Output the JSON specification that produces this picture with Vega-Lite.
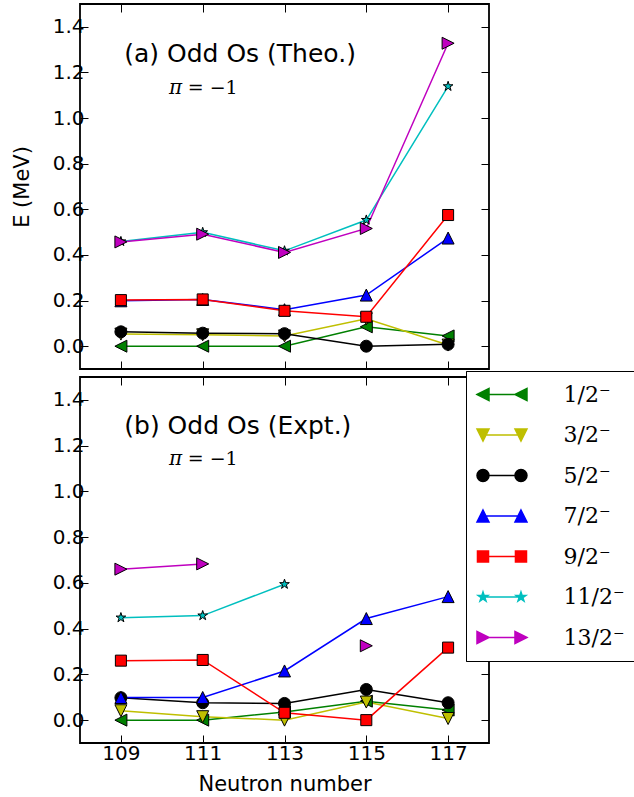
{
  "$schema": "https://vega.github.io/schema/vega-lite/v6.json",
  "padding": {"left": 10, "top": 2, "right": 0, "bottom": 0},
  "background": "white",
  "spacing": 4,
  "config": {
    "view": {"stroke": "black", "strokeWidth": 1.8},
    "font": "DejaVu Sans",
    "axis": {"domain": false, "grid": false, "ticks": true, "tickSize": -8, "tickColor": "black", "tickWidth": 1, "labelFont": "DejaVu Sans", "labelFontSize": 20, "labelColor": "black", "labelFlush": false, "labelOverlap": false, "titleFont": "DejaVu Sans", "titleFontSize": 21, "titleFontWeight": "normal", "titleColor": "black", "labelPadding": 4},
    "legend": {"orient": "none", "legendX": 386, "legendY": 367, "title": null, "padding": 12.5, "fillColor": "white", "strokeColor": "black", "symbolSize": 144, "symbolStrokeWidth": 1.5, "symbolOffset": -6.5, "labelFont": "DejaVu Serif", "labelFontSize": 22, "labelColor": "black", "labelOffset": 69.5, "rowPadding": 18.5}
  },
  "datasets": {
    "d": [
      {"p": "a", "j": "1/2⁻", "N": 109, "E": 0}, {"p": "a", "j": "1/2⁻", "N": 111, "E": 0}, {"p": "a", "j": "1/2⁻", "N": 113, "E": 0}, {"p": "a", "j": "1/2⁻", "N": 115, "E": 0.085}, {"p": "a", "j": "1/2⁻", "N": 117, "E": 0.045},
      {"p": "a", "j": "3/2⁻", "N": 109, "E": 0.053}, {"p": "a", "j": "3/2⁻", "N": 111, "E": 0.05}, {"p": "a", "j": "3/2⁻", "N": 113, "E": 0.045}, {"p": "a", "j": "3/2⁻", "N": 115, "E": 0.12}, {"p": "a", "j": "3/2⁻", "N": 117, "E": 0.005},
      {"p": "a", "j": "5/2⁻", "N": 109, "E": 0.063}, {"p": "a", "j": "5/2⁻", "N": 111, "E": 0.057}, {"p": "a", "j": "5/2⁻", "N": 113, "E": 0.055}, {"p": "a", "j": "5/2⁻", "N": 115, "E": 0.0}, {"p": "a", "j": "5/2⁻", "N": 117, "E": 0.008},
      {"p": "a", "j": "7/2⁻", "N": 109, "E": 0.199}, {"p": "a", "j": "7/2⁻", "N": 111, "E": 0.205}, {"p": "a", "j": "7/2⁻", "N": 113, "E": 0.16}, {"p": "a", "j": "7/2⁻", "N": 115, "E": 0.224}, {"p": "a", "j": "7/2⁻", "N": 117, "E": 0.474},
      {"p": "a", "j": "9/2⁻", "N": 109, "E": 0.202}, {"p": "a", "j": "9/2⁻", "N": 111, "E": 0.205}, {"p": "a", "j": "9/2⁻", "N": 113, "E": 0.155}, {"p": "a", "j": "9/2⁻", "N": 115, "E": 0.129}, {"p": "a", "j": "9/2⁻", "N": 117, "E": 0.575},
      {"p": "a", "j": "11/2⁻", "N": 109, "E": 0.459}, {"p": "a", "j": "11/2⁻", "N": 111, "E": 0.499}, {"p": "a", "j": "11/2⁻", "N": 113, "E": 0.418}, {"p": "a", "j": "11/2⁻", "N": 115, "E": 0.553}, {"p": "a", "j": "11/2⁻", "N": 117, "E": 1.139},
      {"p": "a", "j": "13/2⁻", "N": 109, "E": 0.457}, {"p": "a", "j": "13/2⁻", "N": 111, "E": 0.491}, {"p": "a", "j": "13/2⁻", "N": 113, "E": 0.411}, {"p": "a", "j": "13/2⁻", "N": 115, "E": 0.516}, {"p": "a", "j": "13/2⁻", "N": 117, "E": 1.328},
      {"p": "b", "j": "1/2⁻", "N": 109, "E": 0}, {"p": "b", "j": "1/2⁻", "N": 111, "E": 0}, {"p": "b", "j": "1/2⁻", "N": 113, "E": 0.036}, {"p": "b", "j": "1/2⁻", "N": 115, "E": 0.083}, {"p": "b", "j": "1/2⁻", "N": 117, "E": 0.044},
      {"p": "b", "j": "3/2⁻", "N": 109, "E": 0.041}, {"p": "b", "j": "3/2⁻", "N": 111, "E": 0.015}, {"p": "b", "j": "3/2⁻", "N": 113, "E": 0.0}, {"p": "b", "j": "3/2⁻", "N": 115, "E": 0.079}, {"p": "b", "j": "3/2⁻", "N": 117, "E": 0.007},
      {"p": "b", "j": "5/2⁻", "N": 109, "E": 0.098}, {"p": "b", "j": "5/2⁻", "N": 111, "E": 0.076}, {"p": "b", "j": "5/2⁻", "N": 113, "E": 0.073}, {"p": "b", "j": "5/2⁻", "N": 115, "E": 0.134}, {"p": "b", "j": "5/2⁻", "N": 117, "E": 0.076},
      {"p": "b", "j": "7/2⁻", "N": 109, "E": 0.099}, {"p": "b", "j": "7/2⁻", "N": 111, "E": 0.099}, {"p": "b", "j": "7/2⁻", "N": 113, "E": 0.215}, {"p": "b", "j": "7/2⁻", "N": 115, "E": 0.444}, {"p": "b", "j": "7/2⁻", "N": 117, "E": 0.54},
      {"p": "b", "j": "9/2⁻", "N": 109, "E": 0.26}, {"p": "b", "j": "9/2⁻", "N": 111, "E": 0.263}, {"p": "b", "j": "9/2⁻", "N": 113, "E": 0.032}, {"p": "b", "j": "9/2⁻", "N": 115, "E": 0.0}, {"p": "b", "j": "9/2⁻", "N": 117, "E": 0.317},
      {"p": "b", "j": "11/2⁻", "N": 109, "E": 0.448}, {"p": "b", "j": "11/2⁻", "N": 111, "E": 0.457}, {"p": "b", "j": "11/2⁻", "N": 113, "E": 0.594},
      {"p": "b", "j": "13/2⁻", "N": 109, "E": 0.66}, {"p": "b", "j": "13/2⁻", "N": 111, "E": 0.683}, {"p": "b", "j": "13/2⁻", "N": 115, "E": 0.325, "s": 1}
    ]
  },
  "vconcat": [
    {
      "width": 409, "height": 365,
      "resolve": {"axis": {"x": "independent", "y": "independent"}},
      "layer": [
        {
          "data": {"name": "d"},
          "transform": [{"filter": "datum.p === 'a'"}],
          "mark": {"type": "line", "strokeWidth": 1.5},
          "encoding": {
            "x": {"field": "N", "type": "quantitative", "scale": {"domain": [108, 118], "nice": false, "zero": false}, "axis": {"orient": "bottom", "values": [109, 111, 113, 115, 117], "labels": false, "title": null}},
            "y": {"field": "E", "type": "quantitative", "scale": {"domain": [-0.1, 1.5], "nice": false, "zero": false}, "axis": {"orient": "left", "values": [0, 0.2, 0.4, 0.6, 0.8, 1.0, 1.2, 1.4], "format": ".1f", "title": "E (MeV)", "titlePadding": 20}},
            "detail": {"field": "s"},
            "color": {"field": "j", "type": "nominal",
              "scale": {"domain": ["1/2⁻", "3/2⁻", "5/2⁻", "7/2⁻", "9/2⁻", "11/2⁻", "13/2⁻"], "range": ["#008000", "#bfbf00", "#000000", "#0000ff", "#ff0000", "#00bfbf", "#bf00bf"]},
              "legend": {"orient": "none", "legendX": 386, "legendY": 367, "title": null, "padding": 12.5, "fillColor": "white", "strokeColor": "black", "symbolSize": 144, "symbolStrokeWidth": 1.5, "symbolOffset": -6.5, "labelFont": "DejaVu Serif", "labelFontSize": 22, "labelColor": "black", "labelOffset": 69.5, "rowPadding": 18.5,
                "labelExpr": "datum.label + '\u00a0\u00a0\u00a0\u00a0\u00a0'",
                "encoding": {"symbols": {"stroke": {"value": {"expr": "scale('color', datum.value)"}}, "shape": {"value": {"expr": "['M-1,0 L1,-1 L1,1 Z M5.33,0 L7.33,-1 L7.33,1 Z M1,0 L5.33,0','M-1,-1 L1,-1 L0,1 Z M5.33,-1 L7.33,-1 L6.33,1 Z M0.5,0 L5.83,0','M-1,0 A1,1 0 1,0 1,0 A1,1 0 1,0 -1,0 Z M5.33,0 A1,1 0 1,0 7.33,0 A1,1 0 1,0 5.33,0 Z M1,0 L5.33,0','M0,-1 L1,1 L-1,1 Z M6.33,-1 L7.33,1 L5.33,1 Z M0.5,0 L5.83,0','M-0.92,-0.92 H0.92 V0.92 H-0.92 Z M5.41,-0.92 H7.25 V0.92 H5.41 Z M0.92,0 L5.41,0','M0,-0.85 L0.191,-0.263 L0.808,-0.263 L0.309,0.1 L0.5,0.688 L0,0.325 L-0.5,0.688 L-0.309,0.1 L-0.808,-0.263 L-0.191,-0.263 Z M6.33,-0.85 L6.521,-0.263 L7.138,-0.263 L6.639,0.1 L6.83,0.688 L6.33,0.325 L5.83,0.688 L6.021,0.1 L5.522,-0.263 L6.139,-0.263 Z M0.3,0 L6.03,0','M1,0 L-1,-1 L-1,1 Z M7.33,0 L5.33,-1 L5.33,1 Z M1,0 L5.33,0'][indexof(['1/2⁻','3/2⁻','5/2⁻','7/2⁻','9/2⁻','11/2⁻','13/2⁻'], datum.value)]"}}}}}}
          }
        },
        {
          "data": {"name": "d"},
          "transform": [{"filter": "datum.p === 'a'"}],
          "mark": {"type": "point", "filled": true, "stroke": "black", "strokeWidth": 1, "size": 144, "opacity": 1},
          "encoding": {
            "x": {"field": "N", "type": "quantitative", "axis": {"orient": "top", "values": [109, 111, 113, 115, 117], "labels": false, "title": null}},
            "y": {"field": "E", "type": "quantitative", "axis": {"orient": "right", "values": [0, 0.2, 0.4, 0.6, 0.8, 1.0, 1.2, 1.4], "labels": false, "title": null}},
            "fill": {"field": "j", "type": "nominal",
              "scale": {"domain": ["1/2⁻", "3/2⁻", "5/2⁻", "7/2⁻", "9/2⁻", "11/2⁻", "13/2⁻"], "range": ["#008000", "#bfbf00", "#000000", "#0000ff", "#ff0000", "#00bfbf", "#bf00bf"]},
              "legend": {"orient": "none", "legendX": 386, "legendY": 367, "title": null, "padding": 12.5, "fillColor": "white", "strokeColor": "black", "symbolSize": 144, "symbolStrokeWidth": 1.5, "symbolOffset": -6.5, "labelFont": "DejaVu Serif", "labelFontSize": 22, "labelColor": "black", "labelOffset": 69.5, "rowPadding": 18.5,
                "labelExpr": "datum.label + '\u00a0\u00a0\u00a0\u00a0\u00a0'",
                "encoding": {"symbols": {"stroke": {"value": {"expr": "scale('color', datum.value)"}}, "shape": {"value": {"expr": "['M-1,0 L1,-1 L1,1 Z M5.33,0 L7.33,-1 L7.33,1 Z M1,0 L5.33,0','M-1,-1 L1,-1 L0,1 Z M5.33,-1 L7.33,-1 L6.33,1 Z M0.5,0 L5.83,0','M-1,0 A1,1 0 1,0 1,0 A1,1 0 1,0 -1,0 Z M5.33,0 A1,1 0 1,0 7.33,0 A1,1 0 1,0 5.33,0 Z M1,0 L5.33,0','M0,-1 L1,1 L-1,1 Z M6.33,-1 L7.33,1 L5.33,1 Z M0.5,0 L5.83,0','M-0.92,-0.92 H0.92 V0.92 H-0.92 Z M5.41,-0.92 H7.25 V0.92 H5.41 Z M0.92,0 L5.41,0','M0,-0.85 L0.191,-0.263 L0.808,-0.263 L0.309,0.1 L0.5,0.688 L0,0.325 L-0.5,0.688 L-0.309,0.1 L-0.808,-0.263 L-0.191,-0.263 Z M6.33,-0.85 L6.521,-0.263 L7.138,-0.263 L6.639,0.1 L6.83,0.688 L6.33,0.325 L5.83,0.688 L6.021,0.1 L5.522,-0.263 L6.139,-0.263 Z M0.3,0 L6.03,0','M1,0 L-1,-1 L-1,1 Z M7.33,0 L5.33,-1 L5.33,1 Z M1,0 L5.33,0'][indexof(['1/2⁻','3/2⁻','5/2⁻','7/2⁻','9/2⁻','11/2⁻','13/2⁻'], datum.value)]"}}}}}},
            "shape": {"field": "j", "type": "nominal",
              "scale": {"domain": ["1/2⁻", "3/2⁻", "5/2⁻", "7/2⁻", "9/2⁻", "11/2⁻", "13/2⁻"], "range": ["M-1,0 L1,-1 L1,1 Z", "M-1,-1 L1,-1 L0,1 Z", "circle", "M0,-1 L1,1 L-1,1 Z", "M-0.92,-0.92 H0.92 V0.92 H-0.92 Z", "M0,-0.85 L0.191,-0.263 L0.808,-0.263 L0.309,0.1 L0.5,0.688 L0,0.325 L-0.5,0.688 L-0.309,0.1 L-0.808,-0.263 L-0.191,-0.263 Z", "M1,0 L-1,-1 L-1,1 Z"]},
              "legend": {"disable": true, "orient": "left"}}
          }
        },
        {
          "data": {"values": [{}]},
          "mark": {"type": "text", "text": "(a) Odd Os (Theo.)", "font": "DejaVu Sans", "fontSize": 25, "align": "left", "baseline": "alphabetic", "color": "black"},
          "encoding": {"x": {"datum": 109.083, "type": "quantitative", "axis": null}, "y": {"datum": 1.244, "type": "quantitative", "axis": null}}
        },
        {
          "data": {"values": [{}]},
          "mark": {"type": "text", "text": "π", "font": "DejaVu Serif", "fontStyle": "italic", "fontSize": 20, "align": "left", "baseline": "alphabetic", "color": "black"},
          "encoding": {"x": {"datum": 110.176, "type": "quantitative", "axis": null}, "y": {"datum": 1.105, "type": "quantitative", "axis": null}}
        },
        {
          "data": {"values": [{}]},
          "mark": {"type": "text", "text": "= −1", "font": "DejaVu Serif", "fontSize": 19, "align": "left", "baseline": "alphabetic", "color": "black"},
          "encoding": {"x": {"datum": 110.633, "type": "quantitative", "axis": null}, "y": {"datum": 1.105, "type": "quantitative", "axis": null}}
        }
      ]
    },
    {
      "width": 409, "height": 366,
      "resolve": {"axis": {"x": "independent", "y": "independent"}},
      "layer": [
        {
          "data": {"name": "d"},
          "transform": [{"filter": "datum.p === 'b'"}],
          "mark": {"type": "line", "strokeWidth": 1.5},
          "encoding": {
            "x": {"field": "N", "type": "quantitative", "scale": {"domain": [108, 118], "nice": false, "zero": false}, "axis": {"orient": "bottom", "values": [109, 111, 113, 115, 117], "title": "Neutron number", "labelPadding": 8, "titlePadding": 10}},
            "y": {"field": "E", "type": "quantitative", "scale": {"domain": [-0.1, 1.5], "nice": false, "zero": false}, "axis": {"orient": "left", "values": [0, 0.2, 0.4, 0.6, 0.8, 1.0, 1.2, 1.4], "format": ".1f", "title": null}},
            "detail": {"field": "s"},
            "color": {"field": "j", "type": "nominal",
              "scale": {"domain": ["1/2⁻", "3/2⁻", "5/2⁻", "7/2⁻", "9/2⁻", "11/2⁻", "13/2⁻"], "range": ["#008000", "#bfbf00", "#000000", "#0000ff", "#ff0000", "#00bfbf", "#bf00bf"]},
              "legend": {"orient": "none", "legendX": 386, "legendY": 367, "title": null, "padding": 12.5, "fillColor": "white", "strokeColor": "black", "symbolSize": 144, "symbolStrokeWidth": 1.5, "symbolOffset": -6.5, "labelFont": "DejaVu Serif", "labelFontSize": 22, "labelColor": "black", "labelOffset": 69.5, "rowPadding": 18.5,
                "labelExpr": "datum.label + '\u00a0\u00a0\u00a0\u00a0\u00a0'",
                "encoding": {"symbols": {"stroke": {"value": {"expr": "scale('color', datum.value)"}}, "shape": {"value": {"expr": "['M-1,0 L1,-1 L1,1 Z M5.33,0 L7.33,-1 L7.33,1 Z M1,0 L5.33,0','M-1,-1 L1,-1 L0,1 Z M5.33,-1 L7.33,-1 L6.33,1 Z M0.5,0 L5.83,0','M-1,0 A1,1 0 1,0 1,0 A1,1 0 1,0 -1,0 Z M5.33,0 A1,1 0 1,0 7.33,0 A1,1 0 1,0 5.33,0 Z M1,0 L5.33,0','M0,-1 L1,1 L-1,1 Z M6.33,-1 L7.33,1 L5.33,1 Z M0.5,0 L5.83,0','M-0.92,-0.92 H0.92 V0.92 H-0.92 Z M5.41,-0.92 H7.25 V0.92 H5.41 Z M0.92,0 L5.41,0','M0,-0.85 L0.191,-0.263 L0.808,-0.263 L0.309,0.1 L0.5,0.688 L0,0.325 L-0.5,0.688 L-0.309,0.1 L-0.808,-0.263 L-0.191,-0.263 Z M6.33,-0.85 L6.521,-0.263 L7.138,-0.263 L6.639,0.1 L6.83,0.688 L6.33,0.325 L5.83,0.688 L6.021,0.1 L5.522,-0.263 L6.139,-0.263 Z M0.3,0 L6.03,0','M1,0 L-1,-1 L-1,1 Z M7.33,0 L5.33,-1 L5.33,1 Z M1,0 L5.33,0'][indexof(['1/2⁻','3/2⁻','5/2⁻','7/2⁻','9/2⁻','11/2⁻','13/2⁻'], datum.value)]"}}}}}}
          }
        },
        {
          "data": {"name": "d"},
          "transform": [{"filter": "datum.p === 'b'"}],
          "mark": {"type": "point", "filled": true, "stroke": "black", "strokeWidth": 1, "size": 144, "opacity": 1},
          "encoding": {
            "x": {"field": "N", "type": "quantitative", "axis": {"orient": "top", "values": [109, 111, 113, 115, 117], "labels": false, "title": null}},
            "y": {"field": "E", "type": "quantitative", "axis": {"orient": "right", "values": [0, 0.2, 0.4, 0.6, 0.8, 1.0, 1.2, 1.4], "labels": false, "title": null}},
            "fill": {"field": "j", "type": "nominal",
              "scale": {"domain": ["1/2⁻", "3/2⁻", "5/2⁻", "7/2⁻", "9/2⁻", "11/2⁻", "13/2⁻"], "range": ["#008000", "#bfbf00", "#000000", "#0000ff", "#ff0000", "#00bfbf", "#bf00bf"]},
              "legend": {"orient": "none", "legendX": 386, "legendY": 367, "title": null, "padding": 12.5, "fillColor": "white", "strokeColor": "black", "symbolSize": 144, "symbolStrokeWidth": 1.5, "symbolOffset": -6.5, "labelFont": "DejaVu Serif", "labelFontSize": 22, "labelColor": "black", "labelOffset": 69.5, "rowPadding": 18.5,
                "labelExpr": "datum.label + '\u00a0\u00a0\u00a0\u00a0\u00a0'",
                "encoding": {"symbols": {"stroke": {"value": {"expr": "scale('color', datum.value)"}}, "shape": {"value": {"expr": "['M-1,0 L1,-1 L1,1 Z M5.33,0 L7.33,-1 L7.33,1 Z M1,0 L5.33,0','M-1,-1 L1,-1 L0,1 Z M5.33,-1 L7.33,-1 L6.33,1 Z M0.5,0 L5.83,0','M-1,0 A1,1 0 1,0 1,0 A1,1 0 1,0 -1,0 Z M5.33,0 A1,1 0 1,0 7.33,0 A1,1 0 1,0 5.33,0 Z M1,0 L5.33,0','M0,-1 L1,1 L-1,1 Z M6.33,-1 L7.33,1 L5.33,1 Z M0.5,0 L5.83,0','M-0.92,-0.92 H0.92 V0.92 H-0.92 Z M5.41,-0.92 H7.25 V0.92 H5.41 Z M0.92,0 L5.41,0','M0,-0.85 L0.191,-0.263 L0.808,-0.263 L0.309,0.1 L0.5,0.688 L0,0.325 L-0.5,0.688 L-0.309,0.1 L-0.808,-0.263 L-0.191,-0.263 Z M6.33,-0.85 L6.521,-0.263 L7.138,-0.263 L6.639,0.1 L6.83,0.688 L6.33,0.325 L5.83,0.688 L6.021,0.1 L5.522,-0.263 L6.139,-0.263 Z M0.3,0 L6.03,0','M1,0 L-1,-1 L-1,1 Z M7.33,0 L5.33,-1 L5.33,1 Z M1,0 L5.33,0'][indexof(['1/2⁻','3/2⁻','5/2⁻','7/2⁻','9/2⁻','11/2⁻','13/2⁻'], datum.value)]"}}}}}},
            "shape": {"field": "j", "type": "nominal",
              "scale": {"domain": ["1/2⁻", "3/2⁻", "5/2⁻", "7/2⁻", "9/2⁻", "11/2⁻", "13/2⁻"], "range": ["M-1,0 L1,-1 L1,1 Z", "M-1,-1 L1,-1 L0,1 Z", "circle", "M0,-1 L1,1 L-1,1 Z", "M-0.92,-0.92 H0.92 V0.92 H-0.92 Z", "M0,-0.85 L0.191,-0.263 L0.808,-0.263 L0.309,0.1 L0.5,0.688 L0,0.325 L-0.5,0.688 L-0.309,0.1 L-0.808,-0.263 L-0.191,-0.263 Z", "M1,0 L-1,-1 L-1,1 Z"]},
              "legend": {"disable": true, "orient": "left"}}
          }
        },
        {
          "data": {"values": [{}]},
          "mark": {"type": "text", "text": "(b) Odd Os (Expt.)", "font": "DejaVu Sans", "fontSize": 25, "align": "left", "baseline": "alphabetic", "color": "black"},
          "encoding": {"x": {"datum": 109.083, "type": "quantitative", "axis": null}, "y": {"datum": 1.251, "type": "quantitative", "axis": null}}
        },
        {
          "data": {"values": [{}]},
          "mark": {"type": "text", "text": "π", "font": "DejaVu Serif", "fontStyle": "italic", "fontSize": 20, "align": "left", "baseline": "alphabetic", "color": "black"},
          "encoding": {"x": {"datum": 110.176, "type": "quantitative", "axis": null}, "y": {"datum": 1.117, "type": "quantitative", "axis": null}}
        },
        {
          "data": {"values": [{}]},
          "mark": {"type": "text", "text": "= −1", "font": "DejaVu Serif", "fontSize": 19, "align": "left", "baseline": "alphabetic", "color": "black"},
          "encoding": {"x": {"datum": 110.633, "type": "quantitative", "axis": null}, "y": {"datum": 1.117, "type": "quantitative", "axis": null}}
        }
      ]
    }
  ]
}
